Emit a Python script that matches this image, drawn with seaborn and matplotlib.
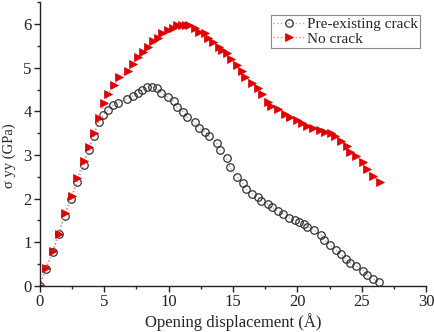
import numpy as np
import pandas as pd
import matplotlib
matplotlib.use("Agg")
import matplotlib.pyplot as plt
import seaborn as sns
from matplotlib.ticker import MultipleLocator

pre_x = [0, 0.45, 1.0, 1.45, 1.93, 2.45, 2.9, 3.42, 3.81, 4.2, 4.56, 4.92, 5.31, 5.65, 6.08,
         6.78, 7.2, 7.59, 7.95, 8.3, 8.7, 9.07, 9.42, 9.97, 10.38, 10.65, 11.14, 11.46, 12.04,
         12.32, 12.85, 13.14, 13.73, 13.95, 14.5, 14.76, 15.3, 15.75, 15.98, 16.5, 16.96, 17.17,
         17.74, 18.0, 18.52, 18.91, 19.35, 19.81, 20.12, 20.54, 20.77, 21.31, 21.83, 22.09,
         22.53, 23.0, 23.36, 23.78, 24.09, 24.55, 25.12, 25.38, 25.85, 26.36]
pre_y = [0, 0.38, 0.78, 1.18, 1.6, 2.0, 2.39, 2.78, 3.11, 3.43, 3.76, 3.92, 4.03, 4.14, 4.2,
         4.29, 4.35, 4.43, 4.5, 4.55, 4.57, 4.53, 4.43, 4.32, 4.23, 4.09, 3.99, 3.86, 3.75,
         3.63, 3.53, 3.43, 3.28, 3.12, 2.92, 2.72, 2.5, 2.35, 2.22, 2.11, 2.03, 1.95,
         1.87, 1.8, 1.72, 1.64, 1.56, 1.51, 1.46, 1.41, 1.36, 1.28, 1.17, 1.05,
         0.94, 0.82, 0.73, 0.61, 0.52, 0.46, 0.35, 0.24, 0.16, 0.09]

no_x = [0, 0.45, 1.0, 1.45, 1.93, 2.5, 2.9, 3.4, 3.82, 4.2, 4.6, 5.0, 5.31, 5.75, 6.16,
        6.86, 7.25, 7.59, 8.03, 8.37, 8.76, 9.14, 9.5, 9.92, 10.31, 10.67, 11.0, 11.34, 11.6,
        12.04, 12.38, 12.82, 13.08, 13.47, 13.91, 14.12, 14.55, 14.82, 15.28, 15.72, 15.93,
        16.5, 16.96, 17.22, 17.74, 17.95, 18.52, 19.04, 19.43, 19.95, 20.33, 20.72, 21.24,
        21.76, 22.14, 22.6, 22.95, 23.36, 23.83, 24.09, 24.55, 25.12, 25.38, 25.85, 26.42]
no_y = [0, 0.4, 0.79, 1.19, 1.68, 2.07, 2.47, 2.86, 3.19, 3.51, 3.84, 4.2, 4.4, 4.6, 4.79,
        4.93, 5.08, 5.24, 5.35, 5.48, 5.62, 5.69, 5.8, 5.86, 5.92, 5.97, 5.99, 5.99, 5.97,
        5.9, 5.82, 5.79, 5.69, 5.58, 5.48, 5.4, 5.33, 5.19, 5.06, 4.92, 4.79,
        4.66, 4.53, 4.39, 4.22, 4.12, 4.05, 3.95, 3.88, 3.8, 3.73, 3.66, 3.61,
        3.57, 3.52, 3.5, 3.44, 3.32, 3.21, 3.08, 2.97, 2.83, 2.67, 2.52, 2.39]

series_names = ["Pre-existing crack", "No crack"]

sns.set_style("ticks")
plt.rcParams['font.family'] = ['Liberation Serif', 'DejaVu Serif']

fig = plt.figure(figsize=(4.34, 3.32), dpi=100)
ax = fig.add_axes([0.092, 0.139, 0.890, 0.854])

df_pre = pd.DataFrame({"x": pre_x, "y": pre_y})
df_no = pd.DataFrame({"x": no_x, "y": no_y})

sns.lineplot(data=df_pre, x="x", y="y", ax=ax, sort=False, label=series_names[0],
             color="#b0b0b0", linestyle=":", linewidth=1.0,
             marker="o", markersize=5.4, markerfacecolor="none",
             markeredgecolor="#333333", markeredgewidth=0.9)
sns.lineplot(data=df_no, x="x", y="y", ax=ax, sort=False, label=series_names[1],
             color="#f08a8a", linestyle=":", linewidth=1.0,
             marker=">", markersize=6.0, markerfacecolor="#e00000",
             markeredgecolor="#e00000", markeredgewidth=0.5)

ax.set_xlim(0, 30)
ax.set_ylim(0, 6.5)
ax.xaxis.set_major_locator(MultipleLocator(5))
ax.xaxis.set_minor_locator(MultipleLocator(2.5))
ax.yaxis.set_major_locator(MultipleLocator(1))
ax.yaxis.set_minor_locator(MultipleLocator(0.5))
ax.tick_params(axis='both', which='major', direction='out', length=4, width=1,
               labelsize=12, colors='#222222', pad=2)
ax.tick_params(axis='both', which='minor', direction='out', length=2.5, width=1)
for s in ['left', 'bottom']:
    ax.spines[s].set_linewidth(1.0)
    ax.spines[s].set_color('#222222')
sns.despine(ax=ax)

ax.set_xlabel("Opening displacement (Å)", fontsize=12, labelpad=2)
ax.set_ylabel("σ yy (GPa)", fontsize=10.5)
ax.yaxis.set_label_coords(-0.062, 0.46)

leg = ax.legend(loc='upper right', bbox_to_anchor=(0.985, 0.955), fontsize=11,
                frameon=True, fancybox=False, edgecolor='#888888', framealpha=1,
                borderpad=0.15, handlelength=2.0, handletextpad=0.2, labelspacing=0.05,
                borderaxespad=0)
leg.get_frame().set_linewidth(0.8)

fig.savefig("out.png", dpi=100)
